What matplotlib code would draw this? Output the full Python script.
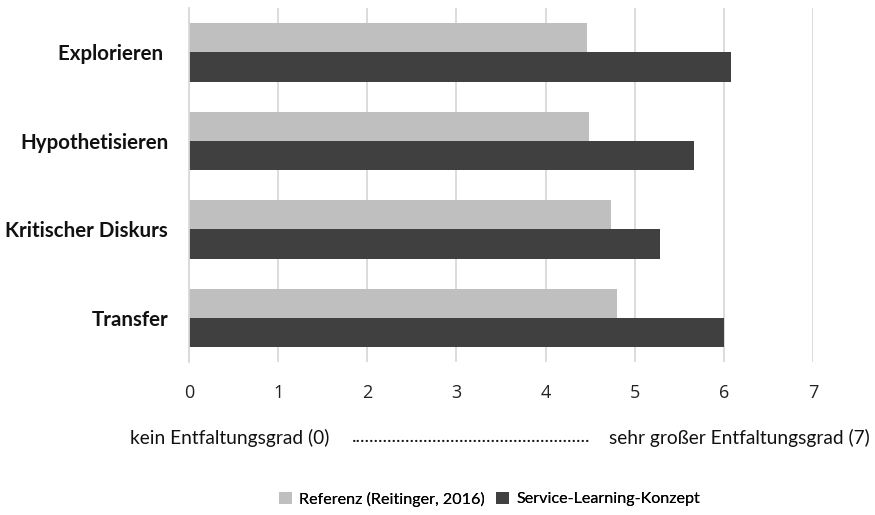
import matplotlib
matplotlib.use("Agg")
import matplotlib.pyplot as plt
import numpy as np

categories = ["Explorieren ", "Hypothetisieren", "Kritischer Diskurs", "Transfer"]
referenz = [4.47, 4.49, 4.73, 4.80]
service_learning = [6.08, 5.67, 5.28, 6.00]
xticks = [0, 1, 2, 3, 4, 5, 6, 7]
series_names = ["Referenz (Reitinger, 2016)", "Service-Learning-Konzept"]
light, dark = "#bfbfbf", "#404040"

fig = plt.figure(figsize=(8.75, 5.15), dpi=100)
ax = fig.add_axes([0.216, 0.297, 0.713, 0.687])

y = np.arange(len(categories))
h = 0.33
bars_ref = ax.barh(y - h / 2, referenz, height=h, color=light, zorder=3)
bars_sl = ax.barh(y + h / 2, service_learning, height=h, color=dark, zorder=3)

ax.set_ylim(len(categories) - 0.5, -0.5)
ax.set_xlim(0, 7)
ax.set_xticks(xticks)
ax.set_xticklabels([str(t) for t in xticks], fontsize=13, family="Open Sans", color="#222222")
ax.set_yticks(y)
ax.set_yticklabels(categories, fontsize=14.8, fontweight="bold", family="Lato", color="#111111")
ax.tick_params(axis="both", length=0)
ax.tick_params(axis="x", pad=16)
ax.tick_params(axis="y", pad=15)
ax.grid(axis="x", color="#d9d9d9", linewidth=1.3, zorder=0)
for s in ["top", "right", "bottom"]:
    ax.spines[s].set_visible(False)
ax.spines["left"].set_color("#d9d9d9")
ax.spines["left"].set_linewidth(1.3)
ax.spines["left"].set_zorder(4)

fs = 13.8
fig.text(130 / 875, 1 - 438 / 515, "kein Entfaltungsgrad (0)", fontsize=fs, family="Lato",
         va="center", ha="left", color="#111111")
fig.text(352 / 875, 1 - 436 / 515, "." * 53, fontsize=fs, family="Lato",
         va="center", ha="left", color="#111111")
fig.text(870 / 875, 1 - 438 / 515, "sehr großer Entfaltungsgrad (7)", fontsize=fs, family="Lato",
         va="center", ha="right", color="#111111")

# one legend entry per series, each placed on its own
leg_y = 1 - 499 / 515
for handle, name, x0 in [(bars_ref, series_names[0], 279 / 875),
                         (bars_sl, series_names[1], 496 / 875)]:
    leg = fig.legend([handle], [name], loc="center left", bbox_to_anchor=(x0, leg_y),
                     frameon=False, prop={"family": "Lato", "size": 11.6},
                     borderpad=0, borderaxespad=0,
                     handlelength=0.8, handleheight=0.8, handletextpad=0.45)
    fig.add_artist(leg)

fig.savefig("out.png", dpi=100)
